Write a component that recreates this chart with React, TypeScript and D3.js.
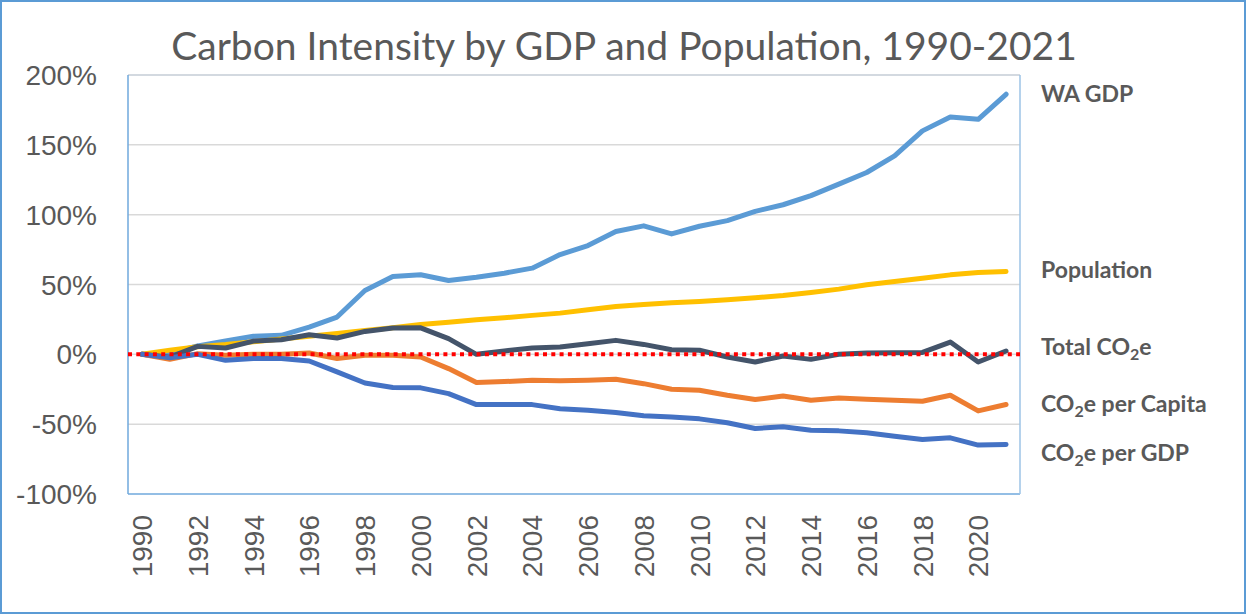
import React, { useEffect, useRef } from "react";
import * as d3 from "d3";

// categories and series (percent change since 1990)
const years = [
  1990, 1991, 1992, 1993, 1994, 1995, 1996, 1997, 1998, 1999, 2000, 2001, 2002, 2003, 2004, 2005,
  2006, 2007, 2008, 2009, 2010, 2011, 2012, 2013, 2014, 2015, 2016, 2017, 2018, 2019, 2020, 2021,
];
const waGdp = [
  0, 1, 6, 9.5, 12.9, 13.6, 19.5, 26.7, 45.7, 55.7, 57, 52.9, 55.2, 58.1, 61.7, 71.4, 77.9, 88, 92,
  86.2, 91.7, 95.7, 102.4, 107.1, 113.6, 121.9, 130.2, 142.1, 160, 170, 168.3, 186.2,
];
const population = [
  0, 3, 5.5, 7, 9, 11, 13, 15, 17, 19, 21.4, 23, 24.8, 26.2, 27.9, 29.5, 31.9, 34.3, 35.7, 36.9,
  37.9, 39, 40.5, 42.1, 44.3, 46.7, 49.8, 52.1, 54.5, 56.9, 58.6, 59.3,
];
const totalCo2e = [
  0, -2, 5.7, 4.5, 9.5, 10.5, 14, 11.7, 16.4, 18.8, 19, 11.2, 0, 2.4, 4.5, 5.2, 7.6, 10, 7.1, 3.3,
  2.9, -1.9, -5.5, -1.2, -3.6, 0, 1, 1.2, 1.4, 8.8, -5.5, 2.4,
];
const co2ePerCapita = [
  0, -3.6, 0.5, -0.7, 0, 0, 1, -3, -0.7, -0.7, -1.9, -10.2, -20.2, -19.5, -18.6, -19, -18.6, -17.9,
  -21, -25, -25.7, -29.3, -32.4, -29.8, -32.9, -31.2, -32.1, -32.9, -33.6, -29.3, -40.5, -35.9,
];
const co2ePerGdp = [
  0, -2.4, 0, -4.3, -3, -3, -4.8, -12.6, -20.5, -23.8, -24, -28.1, -36, -36, -36, -39, -40, -41.7,
  -44, -44.8, -46.2, -49, -53.1, -51.9, -54.3, -54.8, -56.2, -58.6, -61, -59.8, -65, -64.5,
];
const yTicks = [-100, -50, 0, 50, 100, 150, 200];
const xTickYears = years.filter((y) => y % 2 === 0);

const series = [
  { name: "WA GDP", values: waGdp, color: "#5B9BD5" },
  { name: "Population", values: population, color: "#FFC000" },
  { name: "Total CO2e", values: totalCo2e, color: "#44546A" },
  { name: "CO2e per Capita", values: co2ePerCapita, color: "#ED7D31" },
  { name: "CO2e per GDP", values: co2ePerGdp, color: "#4472C4" },
];

// right-hand labels: [before sub, sub, after sub], baseline y
const labels = [
  { parts: ["WA GDP", "", ""], y: 102 },
  { parts: ["Population", "", ""], y: 278 },
  { parts: ["Total CO", "2", "e"], y: 355 },
  { parts: ["CO", "2", "e per Capita"], y: 412 },
  { parts: ["CO", "2", "e per GDP"], y: 461 },
];

const W = 1247;
const H = 615;

export default function App() {
  const ref = useRef<SVGSVGElement>(null);

  useEffect(() => {
    const svg = d3.select(ref.current);
    svg.selectAll("*").remove();

    const left = 128, right = 1020, top = 75, bottom = 494;
    const grey = "#595959";

    const x = d3.scaleBand<number>().domain(years).range([left, right]);
    const cx = (yr: number) => (x(yr) as number) + x.bandwidth() / 2;
    const y = d3.scaleLinear().domain([-100, 200]).range([bottom, top]);

    svg.append("rect").attr("width", W).attr("height", H).attr("fill", "#fff");
    // outer frame
    svg.append("rect")
      .attr("x", 1).attr("y", 1).attr("width", W - 3).attr("height", H - 3)
      .attr("fill", "none").attr("stroke", "#5B9BD5").attr("stroke-width", 2);

    // title
    svg.append("text")
      .attr("x", 624).attr("y", 60)
      .attr("text-anchor", "middle")
      .attr("font-family", "Lato, 'Open Sans', sans-serif")
      .attr("font-size", 39)
      .attr("fill", grey)
      .text("Carbon Intensity by GDP and Population, 1990-2021");

    // gridlines
    svg.append("g")
      .selectAll("line")
      .data(yTicks.filter((t) => t !== 200 && t !== -100))
      .join("line")
      .attr("x1", left).attr("x2", right)
      .attr("y1", (d) => y(d)).attr("y2", (d) => y(d))
      .attr("stroke", "#D9D9D9").attr("stroke-width", 1.5);

    // plot border
    svg.append("line").attr("x1", left).attr("x2", right).attr("y1", top).attr("y2", top)
      .attr("stroke", "#C5CDD6").attr("stroke-width", 1.5);
    svg.append("line").attr("x1", left).attr("x2", right).attr("y1", bottom).attr("y2", bottom)
      .attr("stroke", "#6FA8DC").attr("stroke-width", 1.5);
    svg.append("line").attr("x1", left).attr("x2", left).attr("y1", top).attr("y2", bottom)
      .attr("stroke", "#6FA8DC").attr("stroke-width", 1.5);
    svg.append("line").attr("x1", right).attr("x2", right).attr("y1", top).attr("y2", bottom)
      .attr("stroke", "#9DC3E6").attr("stroke-width", 1.5);

    // y tick labels
    svg.append("g")
      .selectAll("text")
      .data(yTicks)
      .join("text")
      .attr("x", 97)
      .attr("y", (d) => y(d))
      .attr("dy", "0.36em")
      .attr("text-anchor", "end")
      .attr("font-family", "'Liberation Sans', Arial, sans-serif")
      .attr("font-size", 28)
      .attr("fill", grey)
      .text((d) => `${d}%`);

    // x tick labels (rotated)
    svg.append("g")
      .selectAll("text")
      .data(xTickYears)
      .join("text")
      .attr("transform", (d) => `translate(${cx(d)},515) rotate(-90)`)
      .attr("dy", "0.36em")
      .attr("text-anchor", "end")
      .attr("font-family", "'Liberation Sans', Arial, sans-serif")
      .attr("font-size", 28)
      .attr("fill", grey)
      .text((d) => d);

    // series lines
    const line = d3.line<number>()
      .x((_, i) => cx(years[i]))
      .y((d) => y(d));

    svg.append("g")
      .selectAll("path")
      .data(series)
      .join("path")
      .attr("d", (d) => line(d.values))
      .attr("fill", "none")
      .attr("stroke", (d) => d.color)
      .attr("stroke-width", 5)
      .attr("stroke-linejoin", "round")
      .attr("stroke-linecap", "round");

    // red dotted zero line
    svg.append("line")
      .attr("x1", left).attr("x2", right)
      .attr("y1", y(0)).attr("y2", y(0))
      .attr("stroke", "#FF0000")
      .attr("stroke-width", 4)
      .attr("stroke-dasharray", "4 4.3");

    // series labels
    const lab = svg.append("g")
      .attr("font-family", "Lato, 'Open Sans', sans-serif")
      .attr("font-weight", "bold")
      .attr("font-size", 23)
      .attr("fill", grey);
    labels.forEach((l) => {
      const t = lab.append("text").attr("x", 1041).attr("y", l.y);
      t.append("tspan").text(l.parts[0]);
      if (l.parts[1]) {
        t.append("tspan").attr("font-size", 16).attr("dy", 5).text(l.parts[1]);
        t.append("tspan").attr("dy", -5).text(l.parts[2]);
      }
    });
  }, []);

  return (
    <div>
      <svg
        ref={ref}
        width={W}
        height={H}
        style={{ position: "absolute", left: 0, top: 0, display: "block" }}
      />
    </div>
  );
}
